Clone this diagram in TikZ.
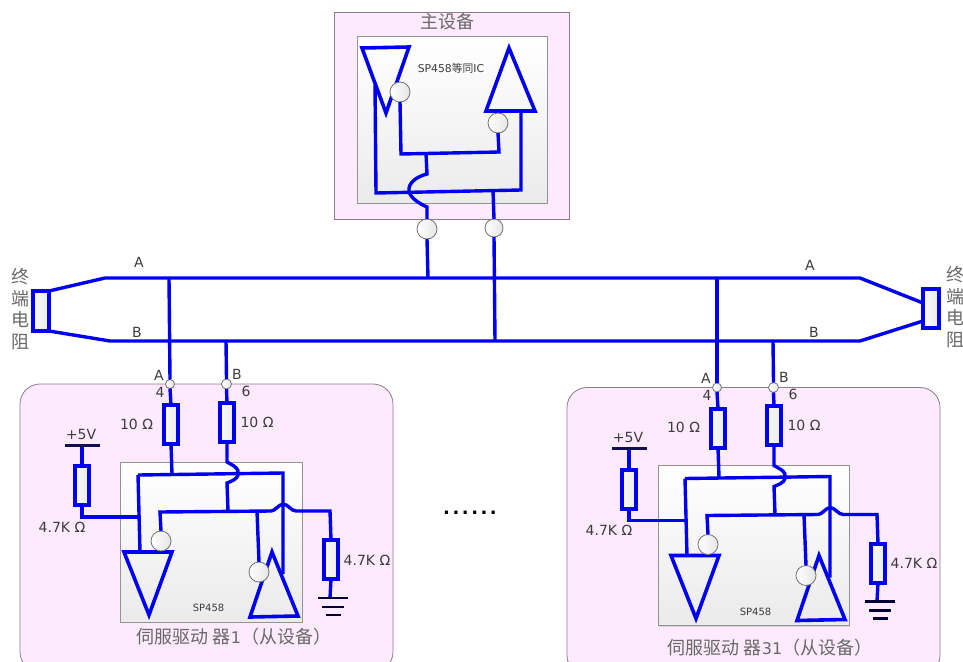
\documentclass[tikz,border=0pt]{standalone}
\usepackage{fontspec}
\setmainfont{DejaVu Sans}
\newfontfamily\cjk{Noto Sans CJK SC}
\definecolor{wireblue}{RGB}{0,0,240}
\definecolor{pinkbg}{RGB}{253,234,253}
\definecolor{boxedge}{RGB}{140,125,140}
\definecolor{txt}{RGB}{60,60,60}
\definecolor{cjktxt}{RGB}{105,105,105}
\usetikzlibrary{shadows}
\tikzset{
  wire/.style={draw=wireblue,line width=3.4pt,line join=miter},
  groundbar/.style={draw=black!80!blue,line width=2.4pt},
  outerbox/.style={draw=boxedge,fill=pinkbg,line width=.8pt,inner sep=0pt,outer sep=0pt},
  chipbox/.style={draw=gray!85,line width=1pt,top color=white,bottom color=black!8,inner sep=0pt,outer sep=0pt,
    drop shadow={opacity=.25,shadow xshift=1pt,shadow yshift=-1pt}},
  resist/.style={draw=wireblue,line width=4pt,left color=black!2,right color=black!8,rectangle,
    inner sep=0pt,outer sep=0pt,minimum width=14.5pt,minimum height=39pt},
  bubble/.style={circle,draw=gray!90!black,line width=.8pt,left color=white,right color=black!10,
    inner sep=0pt,outer sep=0pt,minimum size=20pt},
  pin/.style={bubble,minimum size=9pt},
  gate/.style={draw=wireblue,line width=3.6pt,line join=miter},
  lab/.style={text=txt,font=\fontsize{14}{16}\selectfont,inner sep=0pt},
  small/.style={text=txt,font=\fontsize{10}{12}\selectfont,inner sep=0pt},
  cjklab/.style={text=cjktxt,inner sep=0pt,font=\cjk\fontsize{18}{20}\selectfont},
  vert/.style={cjklab,align=center,font=\cjk\fontsize{18}{21.6}\selectfont},
}
\newcommand{\slavegroup}[6]{%
\begin{scope}[shift={#2},name prefix=#1-]
  \node[outerbox,rounded corners=20pt,minimum width=373pt,minimum height=288pt] (frame) at (206.5,528) {};
  \node[chipbox,minimum width={302-#3},minimum height=160pt,anchor=north east] (chip) at (302,462) {};
  \node[small] (ictext) at (208.5,608) {SP458};
  \node[cjklab,anchor=center] (devname) at (#4,#5) {#6};
  % gates
  \draw[gate] (124,552) coordinate (tlA) -- (172,552) coordinate (trA) -- (149,615) -- cycle;
  \draw[gate] (272,552) -- (298,616) -- (250,617) -- cycle;
  % nodes
  \node[pin] (pA) at (170,384) {};
  \node[pin,minimum size=10pt] (pB) at (226.5,384) {};
  \node[resist] (r1) at (171,424.5) {};
  \node[resist] (r2) at (227,422) {};
  \node[resist] (r3) at (82,485.5) {};
  \node[resist] (r4) at (331,559.5) {};
  \node[bubble] (c1) at (161,541) {};
  \node[bubble] (c2) at (259,572) {};
  \coordinate (v5l) at (65,445);
  \coordinate (v5r) at (100,445);
  \coordinate (v5m) at (82,445);
  \coordinate (busTl) at (138,475);
  \coordinate (busTr) at (283,473);
  \coordinate (busTa) at (172,474);
  \coordinate (midJ) at (228,511);
  \coordinate (gnd) at (330,598);
  % wires
  \draw[wire] (pA.south) -- (r1.north);
  \draw[wire] (pB.south) -- (r2.north);
  \draw[wire] (r1.south) -- (busTa);
  \draw[wire] (v5m) -- (r3.north);
  \draw[line width=3pt,draw={rgb,255:red,16;green,16;blue,80}] (v5l) -- (v5r);
  \draw[wire] (r3.south) |- (138,517);
  \draw[wire] (busTl) -- (busTr) -- (283,574);
  \draw[wire] (busTl) -- (140,552);
  \draw[wire] (r2.south) -- (227,462) -- (234,466) .. controls (238,469) and (239,472) .. (238,475) .. controls (237,479) and (232,481) .. (227,483) -- (midJ);
  \draw[wire] (c1.north) -- (160,512) -- (271,511) .. controls (275,511) and (278,505) .. (283,504) .. controls (288,504) and (291,511) .. (296,511) -- (330,511) -- (r4.north);
  \draw[wire] (257,511) -- (c2.north);
  \draw[wire] (r4.south) -- (gnd);
  \draw[groundbar] (318,598) -- (348,598);
  \draw[groundbar] (322,607) -- (344,607);
  \draw[groundbar] (326,615) -- (341,615);
  % labels
  \node[lab] (lA) at (159,375) {A};
  \node[lab] (l4) at (160,392) {4};
  \node[lab] (lB) at (237,374) {B};
  \node[lab] (l6) at (246,391) {6};
  \node[lab] (l10a) at (136.5,424) {10 Ω};
  \node[lab] (l10b) at (257,422) {10 Ω};
  \node[lab] (l5v) at (81,434) {+5V};
  \node[lab] (l47a) at (62,527) {4.7K Ω};
  \node[lab] (l47b) at (367,560) {4.7K Ω};
\end{scope}}
\begin{document}
\begin{tikzpicture}[x=1pt,y=-1pt]
\useasboundingbox (0,0) rectangle (963,661);
\clip (0,0) rectangle (963,661);
\fill[white] (0,0) rectangle (963,661);
% master
\node[outerbox,minimum width=235pt,minimum height=207pt,anchor=north west] (master) at (334,12) {};
\node[chipbox,minimum width=190pt,minimum height=166pt,anchor=north west] (mchip) at (357,37) {};
\node[cjklab] (mtitle) at (447,22) {主设备};
\node[small,font=\fontsize{10.8}{12}\selectfont] (mic) at (451,68) {SP458{\cjk 等同}IC};
\draw[gate] (362,48) -- (409,47) -- (386,113) -- cycle;
\draw[gate] (509,48) -- (535,111) -- (486,111) -- cycle;
\node[bubble] (mc1) at (400,92) {};
\node[bubble] (mc2) at (498,123) {};
\node[bubble] (mp1) at (427,229) {};
\node[bubble,minimum size=18pt] (mp2) at (494,228) {};
\coordinate (mj1) at (426,153);
\coordinate (mj2) at (493,190);
\draw[wire] (mc1.south) -- (401,154) -- (499,152) -- (mc2.south);
\draw[wire] (375,85) -- (376,193) -- (521,190) -- (521,111);
\draw[wire] (mj1) -- (427,174) .. controls (415,177) and (408,184) .. (409,191) .. controls (410,198) and (420,204) .. (427,207) -- (mp1.north);
\draw[wire] (mj2) -- (mp2.north);
% slaves
\slavegroup{l}{(0,0)}{120.5}{234}{637}{伺服驱动 器{\fontspec{DejaVu Sans}\fontsize{16}{20}\selectfont 1}（从设备）}
\slavegroup{r}{(547,3.5)}{111}{223}{644.5}{伺服驱动 器{\fontspec{DejaVu Sans}\fontsize{16}{20}\selectfont 31}（从设备）}
% bus
\node[resist,minimum width=16pt,minimum height=40pt] (termL) at (41,311) {};
\node[resist,minimum width=16pt,minimum height=39pt] (termR) at (931,308.5) {};
\coordinate (tapA1) at (169,278);
\coordinate (tapB1) at (226,341);
\coordinate (tapA2) at (428,278);
\coordinate (tapB2) at (495,341);
\coordinate (tapA3) at (717,278);
\coordinate (tapB3) at (773,341);
\draw[wire] (termL.north east) -- (105,278) -- (860,278) -- (termR.west |- 0,303);
\draw[wire] (termL.south east) -- (110,341) -- (860,341) -- (termR.west |- 0,321);
\draw[wire] (tapA1) -- (l-pA.north);
\draw[wire] (tapB1) -- (l-pB.north);
\draw[wire] (tapA3) -- (r-pA.north);
\draw[wire] (tapB3) -- (r-pB.north);
\draw[wire] (mp1.south) -- (tapA2);
\draw[wire] (mp2.south) -- (tapB2);
% bus labels
\node[lab] (aL) at (139,262) {A};
\node[lab] (bL) at (137,332) {B};
\node[lab] (aR) at (810,265) {A};
\node[lab] (bR) at (814,332) {B};
\node[vert] (tL) at (20,309) {终\\端\\电\\阻};
\node[vert] (tR) at (955,307) {终\\端\\电\\阻};
\node[text=black,inner sep=0pt,font=\bfseries\fontsize{18}{20}\selectfont\addfontfeature{LetterSpace=14}] (dots) at (470,513) {......};
\end{tikzpicture}
\end{document}
